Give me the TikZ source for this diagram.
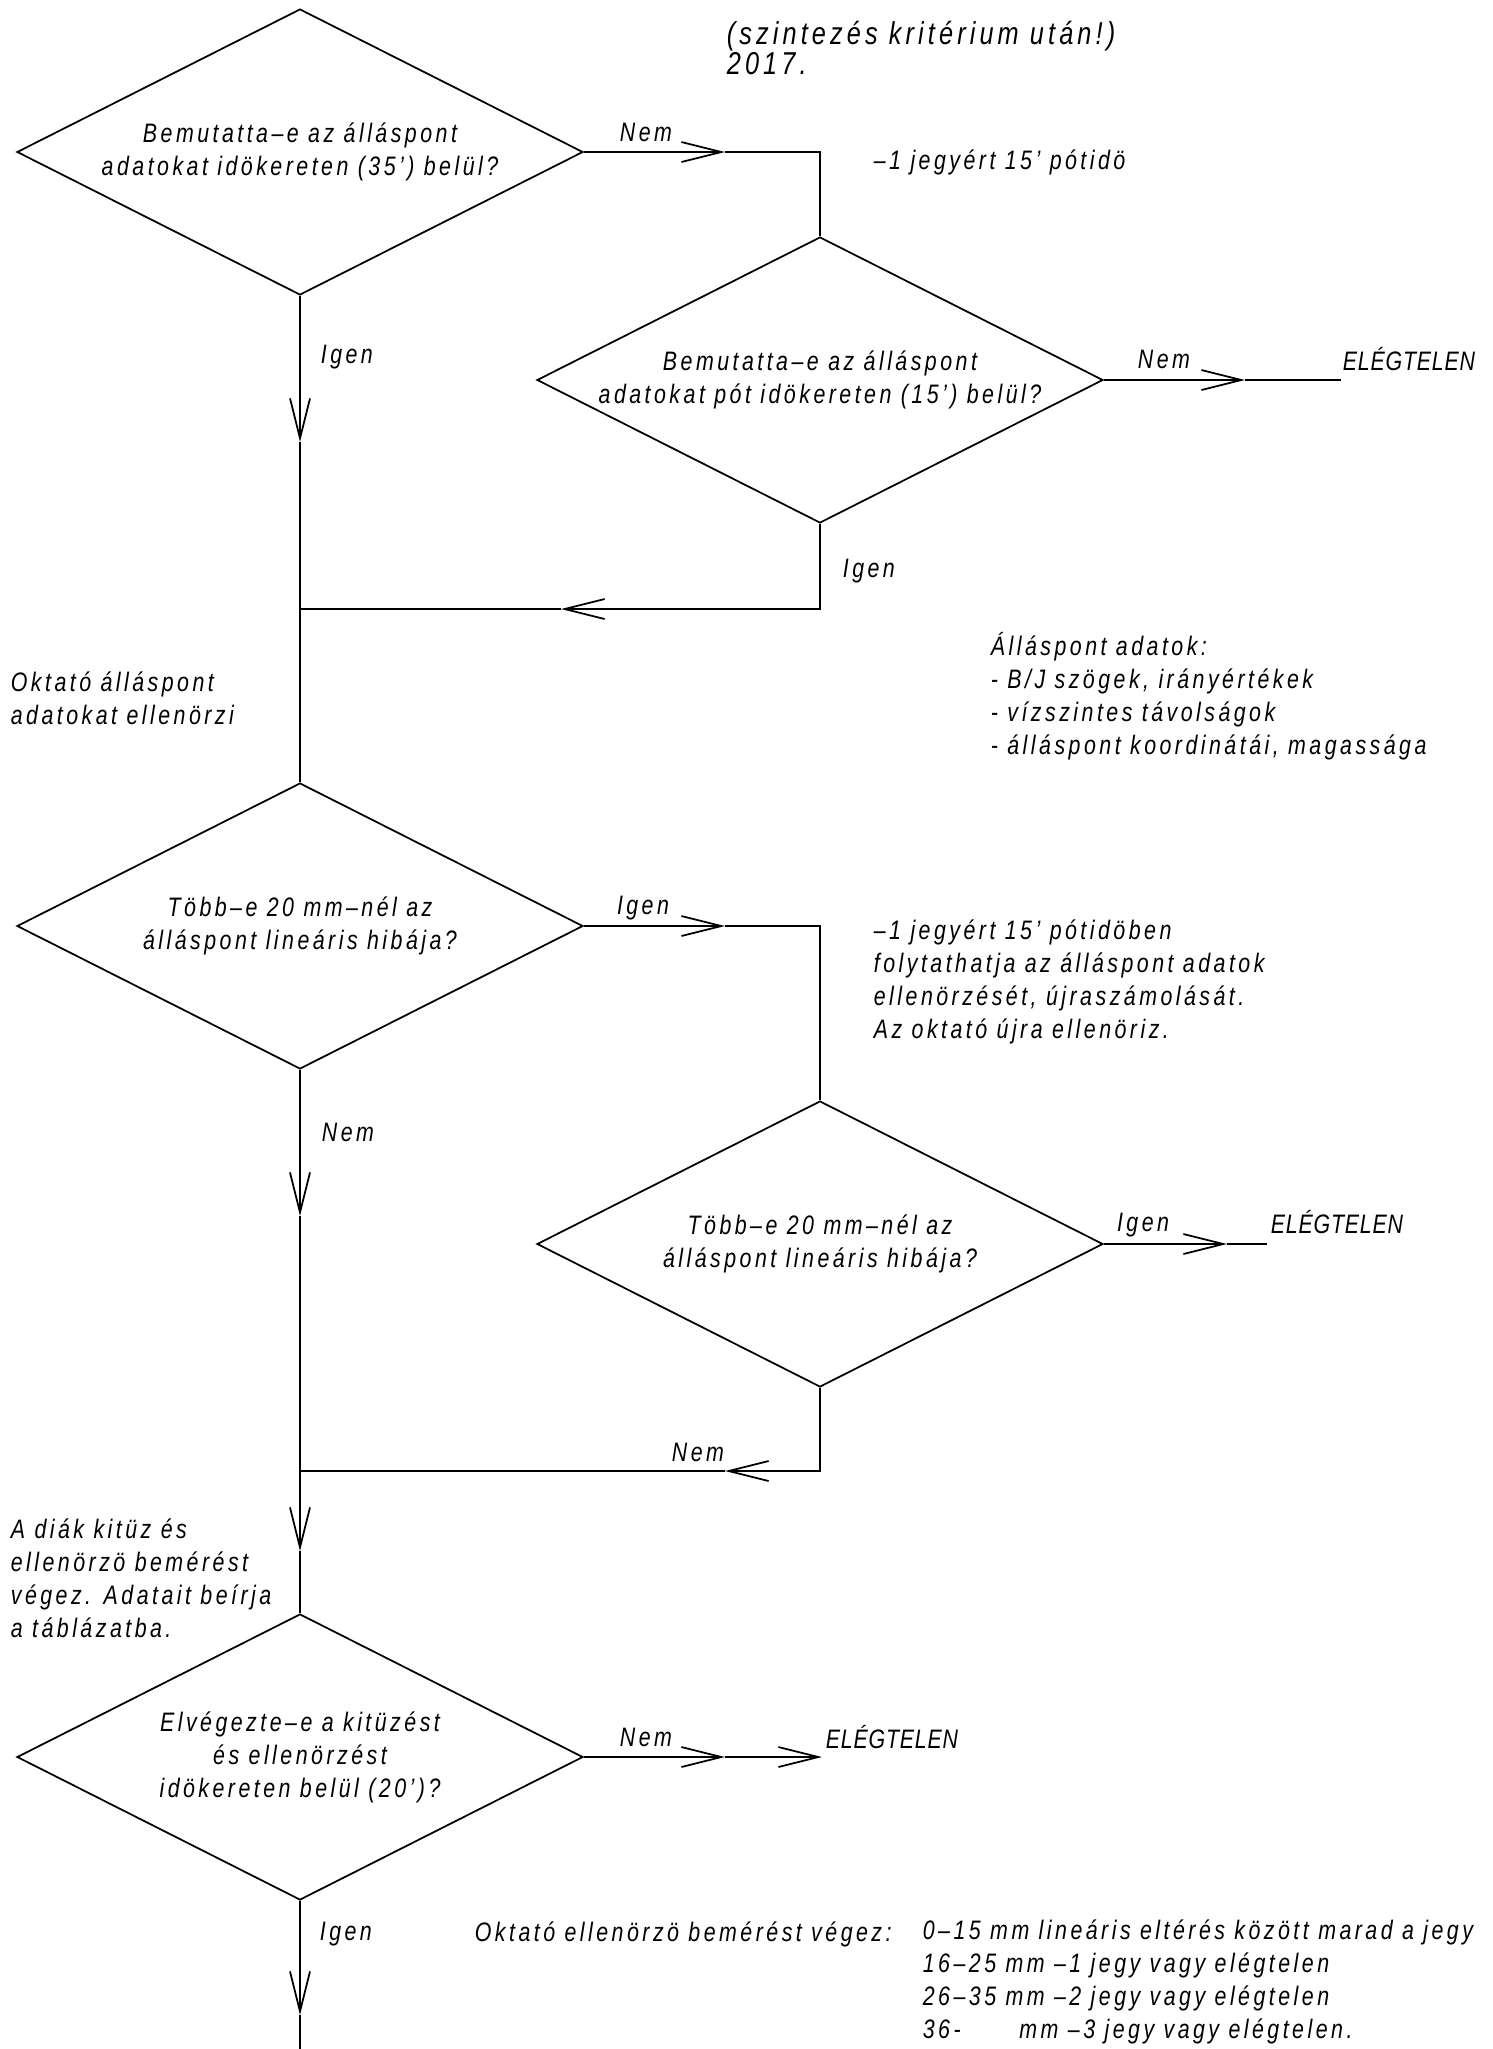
\documentclass[tikz,border=0pt]{standalone}
\usepackage{fontspec}
\setmainfont{Liberation Sans}[FakeStretch=0.8, LetterSpace=13]
\usetikzlibrary{shapes.geometric, arrows.meta}

\newcommand{\cadfont}{\itshape\fontsize{7.6}{9.4}\selectfont}

\tikzset{
  dontes/.style={draw, diamond, aspect=2, minimum width=5.66cm, minimum height=2.86cm, inner sep=0pt, align=center, font=\cadfont},
  felirat/.style={inner sep=0pt, align=left, font=\cadfont},
  eredmeny/.style={felirat, font=\cadfont\addfontfeature{LetterSpace=3}},
  nyil/.style={-{Straight Barb[length=4mm, width=2mm]}}
}

\begin{document}
\begin{tikzpicture}[line width=0.5pt]
  \useasboundingbox (0,0) rectangle (14.92,-20.49);

  % cim
  \node[felirat, anchor=west, font=\itshape\fontsize{9}{8.8}\selectfont] (cim) at (7.26,-0.48) {(szintezés kritérium után!)\\2017.};

  % dontesek
  \node[dontes] (d1) at (3.00,-1.52) {Bemutatta–e az álláspont\\adatokat idökereten (35’) belül?};
  \node[dontes] (d2) at (8.20,-3.80) {Bemutatta–e az álláspont\\adatokat pót idökereten (15’) belül?};
  \node[dontes] (d3) at (3.00,-9.26) {Több–e 20 mm–nél az\\álláspont lineáris hibája?};
  \node[dontes] (d4) at (8.20,-12.44) {Több–e 20 mm–nél az\\álláspont lineáris hibája?};
  \node[dontes] (d5) at (3.00,-17.57) {Elvégezte–e a kitüzést\\és ellenörzést\\idökereten belül (20’)?};

  % megjegyzesek
  \node[felirat, anchor=west] (pot1) at (8.73,-1.62) {–1 jegyért 15’ pótidö};
  \node[felirat, anchor=west] (okt1) at (0.10,-6.98) {Oktató álláspont\\adatokat ellenörzi};
  \node[felirat, anchor=west] (adat) at (9.90,-6.96) {Álláspont adatok:\\- B/J szögek, irányértékek\\- vízszintes távolságok\\- álláspont koordinátái, magassága};
  \node[felirat, anchor=west] (pot2) at (8.73,-9.82) {–1 jegyért 15’ pótidöben\\folytathatja az álláspont adatok\\ellenörzését, újraszámolását.\\Az oktató újra ellenöriz.};
  \node[felirat, anchor=west] (diak) at (0.10,-15.78) {A diák kitüz és\\ellenörzö bemérést\\végez. Adatait beírja\\a táblázatba.};
  \node[felirat, anchor=west] (okt2) at (4.74,-19.34) {Oktató ellenörzö bemérést végez:};
  \node[felirat, anchor=west] (hatar) at (9.22,-19.82) {0–15 mm lineáris eltérés között marad a jegy\\16–25 mm –1 jegy vagy elégtelen\\26–35 mm –2 jegy vagy elégtelen\\36-\hspace{2.2em}mm –3 jegy vagy elégtelen.};

  % eredmenyek
  \node[eredmeny, anchor=west] (el1) at (13.42,-3.59) {ELÉGTELEN};
  \node[eredmeny, anchor=west] (el2) at (12.70,-12.22) {ELÉGTELEN};
  \node[eredmeny, anchor=west] (el3) at (8.25,-17.37) {ELÉGTELEN};

  % Igen / Nem
  \node[felirat] (nem1) at (6.46,-1.32) {Nem};
  \node[felirat, anchor=west] (igen1) at (3.20,-3.57) {Igen};
  \node[felirat] (nem2) at (11.64,-3.59) {Nem};
  \node[felirat, anchor=west] (igen2) at (8.42,-5.71) {Igen};
  \node[felirat] (igen3) at (6.43,-9.08) {Igen};
  \node[felirat, anchor=west] (nem3) at (3.21,-11.32) {Nem};
  \node[felirat] (igen4) at (11.43,-12.25) {Igen};
  \node[felirat] (nem4) at (6.98,-14.52) {Nem};
  \node[felirat] (nem5) at (6.46,-17.37) {Nem};
  \node[felirat, anchor=west] (igen5) at (3.19,-19.34) {Igen};

  % pontok
  \coordinate (h1) at (7.25,-1.52);
  \coordinate (k1) at (8.20,-1.52);
  \coordinate (h2) at (12.45,-3.80);
  \coordinate (v2) at (13.41,-3.80);
  \coordinate (h3) at (3.00,-4.42);
  \coordinate (j1) at (3.00,-6.09);
  \coordinate (k2) at (8.20,-6.09);
  \coordinate (h4) at (5.61,-6.09);
  \coordinate (h5) at (7.25,-9.26);
  \coordinate (k3) at (8.20,-9.26);
  \coordinate (h6) at (12.27,-12.44);
  \coordinate (v6) at (12.67,-12.44);
  \coordinate (h7) at (3.00,-12.16);
  \coordinate (j2) at (3.00,-14.71);
  \coordinate (h8) at (3.00,-15.51);
  \coordinate (k4) at (8.20,-14.71);
  \coordinate (h9) at (7.25,-14.71);
  \coordinate (h10) at (7.25,-17.57);
  \coordinate (h11) at (8.22,-17.57);
  \coordinate (h12) at (3.00,-20.15);
  \coordinate (vege) at (3.00,-20.49);

  % vonalak
  \draw[nyil] (d1.east) -- (h1);
  \draw (h1) -- (k1) -- (d2.north);
  \draw[nyil] (d2.east) -- (h2);
  \draw (h2) -- (v2);
  \draw[nyil] (d1.south) -- (h3);
  \draw (h3) -- (j1) -- (d3.north);
  \draw[nyil] (d2.south) -- (k2) -- (h4);
  \draw (h4) -- (j1);
  \draw[nyil] (d3.east) -- (h5);
  \draw (h5) -- (k3) -- (d4.north);
  \draw[nyil] (d4.east) -- (h6);
  \draw (h6) -- (v6);
  \draw[nyil] (d3.south) -- (h7);
  \draw (h7) -- (j2);
  \draw[nyil] (j2) -- (h8);
  \draw (h8) -- (d5.north);
  \draw[nyil] (d4.south) -- (k4) -- (h9);
  \draw (h9) -- (j2);
  \draw[nyil] (d5.east) -- (h10);
  \draw[nyil] (h10) -- (h11);
  \draw[nyil] (d5.south) -- (h12);
  \draw (h12) -- (vege);
\end{tikzpicture}
\end{document}
